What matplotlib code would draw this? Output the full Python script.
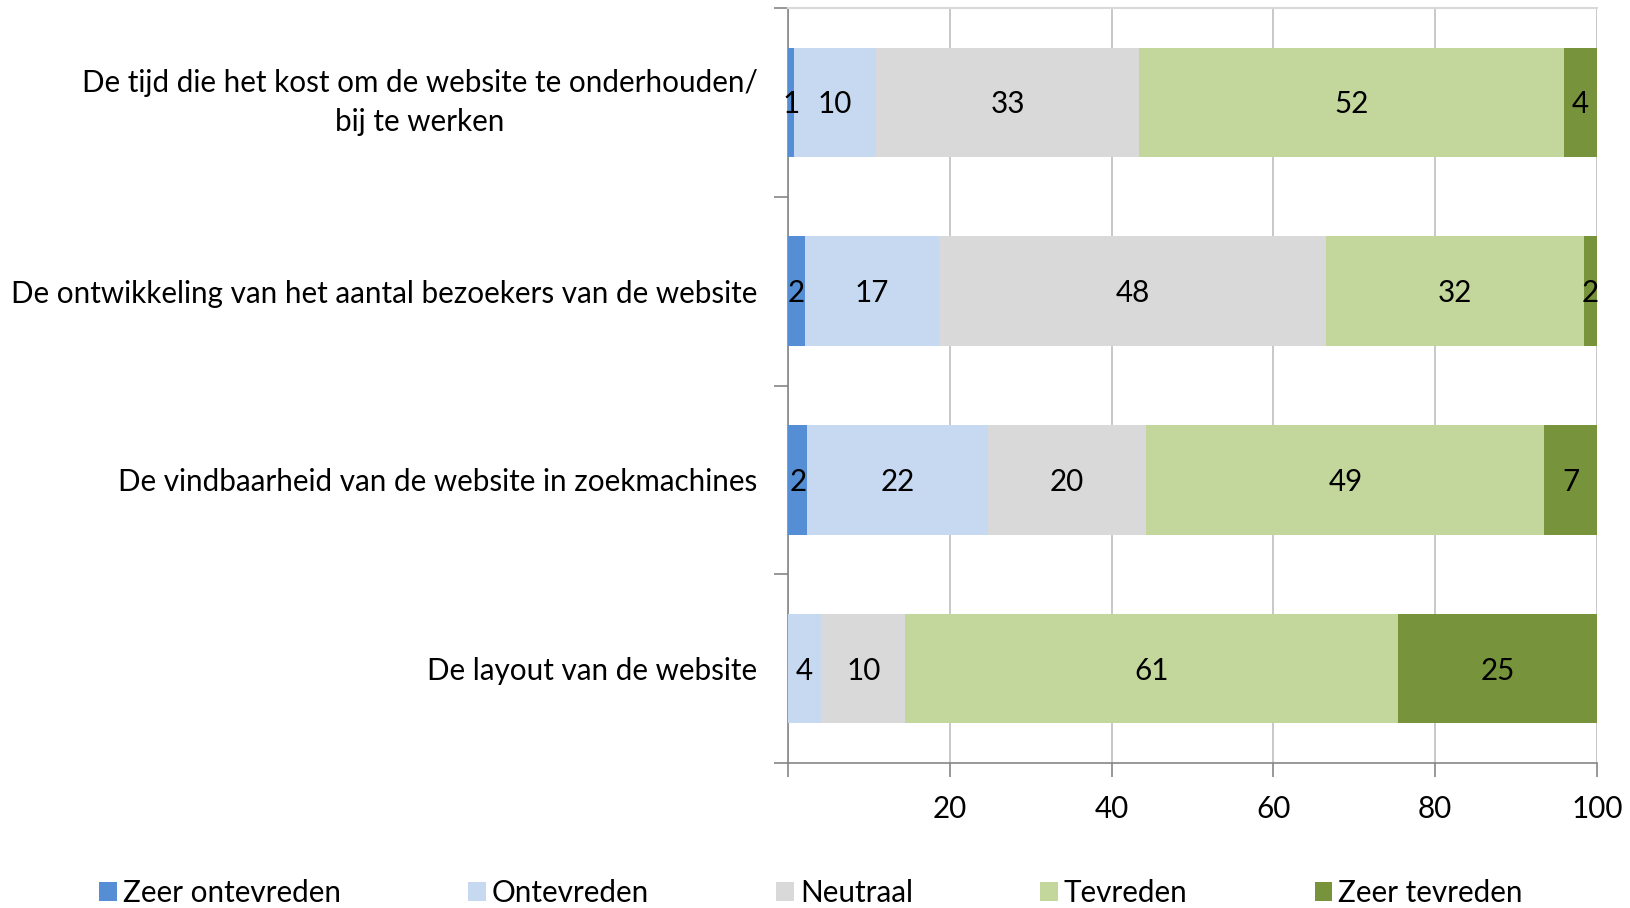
import matplotlib
matplotlib.use("Agg")
import matplotlib.pyplot as plt
import numpy as np

categories = [
    "De tijd die het kost om de website te onderhouden/\nbij te werken",
    "De ontwikkeling van het aantal bezoekers van de website",
    "De vindbaarheid van de website in zoekmachines",
    "De layout van de website",
]
series_names = ["Zeer ontevreden", "Ontevreden", "Neutraal", "Tevreden", "Zeer tevreden"]
zeer_ontevreden = [0.7, 2.1, 2.4, 0.0]
ontevreden = [10.2, 16.6, 22.3, 4.1]
neutraal = [32.5, 47.8, 19.6, 10.4]
tevreden = [52.5, 31.9, 49.2, 60.9]
zeer_tevreden = [4.1, 1.6, 6.5, 24.6]
labels = [
    ["1", "2", "2", ""],
    ["10", "17", "22", "4"],
    ["33", "48", "20", "10"],
    ["52", "32", "49", "61"],
    ["4", "2", "7", "25"],
]
colors = ["#558ED5", "#C6D9F1", "#D9D9D9", "#C3D69B", "#77933C"]
xticks = [20, 40, 60, 80, 100]

plt.rcParams["font.family"] = ["Lato", "DejaVu Sans"]
FS = 21.3

fig = plt.figure(figsize=(16.3, 9.08), dpi=100)
ax = fig.add_axes([788 / 1630, 1 - 763 / 908, (1597 - 788) / 1630, (763 - 8) / 908])

series = [zeer_ontevreden, ontevreden, neutraal, tevreden, zeer_tevreden]
y = np.arange(len(categories))
left = np.zeros(len(categories))
handles = []
for vals, col, name, labs in zip(series, colors, series_names, labels):
    vals = np.array(vals)
    bars = ax.barh(y, vals, left=left, height=0.58, color=col, label=name, zorder=3)
    handles.append(bars)
    for i, (v, l0, lab) in enumerate(zip(vals, left, labs)):
        if lab:
            ax.text(l0 + v / 2, y[i] + 0.01, lab, ha="center", va="center", fontsize=FS, color="black", zorder=4)
    left = left + vals

ax.set_xlim(0, 100)
ax.set_ylim(3.5, -0.5)
ax.set_xticks([0] + xticks)
ax.set_xticklabels([""] + [str(t) for t in xticks], fontsize=FS)
ax.set_yticks(y)
ylabs = ax.set_yticklabels(categories, fontsize=FS, multialignment="center", linespacing=1.5)
ylabs[0].set_verticalalignment("center")
ax.tick_params(axis="y", length=0, pad=22)
ax.set_yticks(np.arange(-0.5, len(categories), 1.0), minor=True)
ax.tick_params(axis="y", which="minor", length=10, color="#868686", width=1.2)
ax.tick_params(axis="x", length=10, color="#868686", width=1.2, pad=13)
ax.grid(axis="x", color="#BFBFBF", linewidth=1.2, zorder=0)
ax.set_axisbelow(True)
for s in ["left", "bottom"]:
    ax.spines[s].set_color("#868686")
    ax.spines[s].set_linewidth(1.2)
ax.spines["top"].set_color("#D9D9D9")
ax.spines["top"].set_linewidth(1.5)
ax.spines["right"].set_visible(False)

fig.legend(handles=handles, labels=series_names, loc="center", bbox_to_anchor=(0.4975, 1 - 893 / 908),
           ncol=5, frameon=False, fontsize=FS, handlelength=0.6, handleheight=0.6,
           handletextpad=0.2, columnspacing=4.3)

fig.savefig("out.png", dpi=100)
